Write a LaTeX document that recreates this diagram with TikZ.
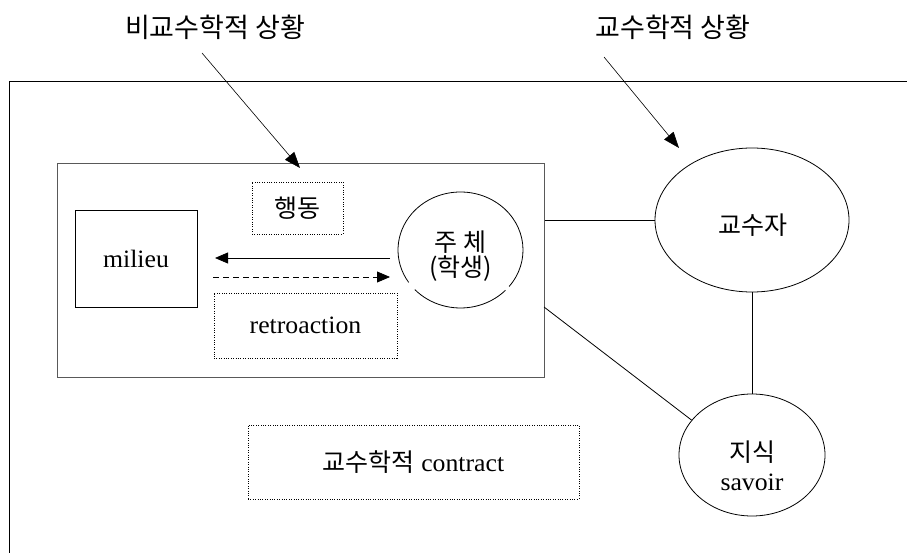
\documentclass[tikz,border=0pt]{standalone}
\usepackage{fontspec}
\setmainfont{Liberation Serif}[FakeStretch=1.03]
\newfontfamily\kr{Noto Sans CJK KR}
\usetikzlibrary{arrows.meta,shapes.geometric}
% Korean words inside Latin text
\newcommand\kotext[1]{{\kr\fontsize{25}{29}\selectfont #1}}

\begin{document}
\begin{tikzpicture}[x=1pt,y=1pt,
  line width=0.8pt,
  every node/.style={font=\fontsize{25}{29}\selectfont, inner sep=0pt},
  kor/.style={font=\kr\fontsize{25}{29}\selectfont},
  headline/.style={font=\kr\fontsize{27}{31}\selectfont},
  solidbox/.style={draw, rectangle, inner sep=0pt},
  dotbox/.style={draw, rectangle, inner sep=0pt, line width=0.7pt, dash pattern=on 1pt off 1.4pt},
  oval/.style={draw, ellipse, inner sep=0pt},
  bigtip/.style={-{Triangle[length=16pt,width=12pt]}},
  smalltip/.style={-{Triangle[length=13pt,width=11pt]}}
]
\useasboundingbox (0,0) rectangle (907,-553);

% outer frame (open to the right and bottom)
\draw (907,-81) -| (9,-553);

% situation labels
\node[headline] (adid) at (215,-27) {비교수학적 상황};
\node[headline] (did)  at (673,-27) {교수학적 상황};

% a-didactic situation box
\node[draw=black!65, line width=1.1pt, rectangle, minimum width=487pt, minimum height=214pt,
      anchor=north west] (inbox) at (57,-163) {};

% milieu
\node[solidbox, minimum width=122pt, minimum height=97pt] (milieu) at (136,-258.5) {milieu};

% action / feedback boxes
\node[dotbox, minimum width=91pt, minimum height=52pt, kor] (action) at (297.5,-208) {행동};
\node[dotbox, minimum width=183pt, minimum height=65pt] (retro) at (305.5,-325.5) {retroaction};

% subject (student), outline broken at two places
\node[ellipse, minimum width=125pt, minimum height=116pt] (subj) at (460.5,-250) {};
\draw ([shift={(223:62.5pt and 58pt)}]subj.center)
      arc[start angle=223, end angle=316, x radius=62.5pt, y radius=58pt];
\draw ([shift={(321:62.5pt and 58pt)}]subj.center)
      arc[start angle=321, end angle=574, x radius=62.5pt, y radius=58pt];
\node[kor, align=center, font=\kr\fontsize{25}{25}\selectfont] (subjtxt) at (460.5,-256) {주 체\\(학생)};

% action and feedback arrows
\coordinate (actfrom) at (390,-258);
\coordinate (actto)   at (215,-258);
\coordinate (fbfrom)  at (213,-277);
\coordinate (fbto)    at (390,-277);
\draw[smalltip] (actfrom) -- (actto);
\draw[smalltip, dash pattern=on 6pt off 4pt] (fbfrom) -- (fbto);

% teacher and knowledge
\node[oval, minimum width=194pt, minimum height=144pt] (teacher) at (752,-220) {};
\node[kor] (teachtxt) at (753,-225) {교수자};
\node[oval, minimum width=146pt, minimum height=122pt] (knowledge) at (752,-455) {};
\node[align=center] (knowtxt) at (752,-466) {\kotext{지식}\\[0pt]savoir};

% didactic contract
\node[dotbox, minimum width=331pt, minimum height=74pt] (contract) at (413.5,-462) {\kotext{교수학적} contract};

% relations
\draw (inbox.east |- teacher.west) -- (teacher.west);
\coordinate (relstart) at (544,-307);
\draw (relstart) -- (knowledge.150);
\draw (teacher.south) -- (knowledge.north);

% pointers from the labels
\coordinate (adidfrom) at (202,-53);
\coordinate (adidto)   at (300,-168);
\coordinate (didfrom)  at (604,-57);
\coordinate (didto)    at (679,-148);
\draw[bigtip, line width=0.6pt] (adidfrom) -- (adidto);
\draw[bigtip, line width=0.6pt] (didfrom) -- (didto);
\end{tikzpicture}
\end{document}
